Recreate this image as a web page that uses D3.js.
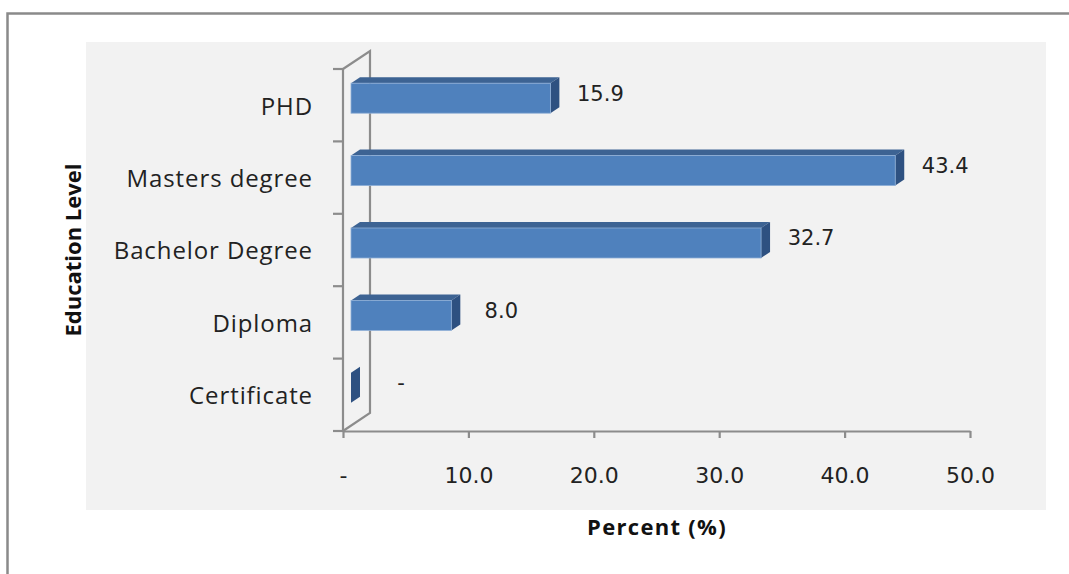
<!DOCTYPE html>
<html>
<head>
<meta charset="utf-8">
<script src="https://cdn.jsdelivr.net/npm/d3@7"></script>
<style>
  html, body { margin: 0; padding: 0; background: #ffffff; }
  svg { display: block; }
</style>
</head>
<body>
<svg id="chart" width="1069" height="574"></svg>
<script>
// Education level of respondents, percent of sample
const categories = ["PHD", "Masters degree", "Bachelor Degree", "Diploma", "Certificate"];
const percents = [15.9, 43.4, 32.7, 8.0, 0];
const xTicks = [0, 10, 20, 30, 40, 50];
const xTickLabels = ["-", "10.0", "20.0", "30.0", "40.0", "50.0"];

const svg = d3.select("#chart");

const fmt = v => (v === 0 ? "-" : d3.format(".1f")(v));
const labelFont = "'Open Sans', Lato, sans-serif";
const numFont = "'DejaVu Sans', Verdana, sans-serif";

// outer frame and plot panel
svg.append("rect")
  .attr("x", 7.5).attr("y", 13.5)
  .attr("width", 1080).attr("height", 600)
  .attr("fill", "#ffffff")
  .attr("stroke", "#8a8a8a").attr("stroke-width", 2.5);

svg.append("rect")
  .attr("x", 86).attr("y", 42)
  .attr("width", 960).attr("height", 468)
  .attr("fill", "#f2f2f2");

// scales
const x = d3.scaleLinear().domain([0, 50]).range([343, 970]);
const y = d3.scaleBand().domain(categories).range([69, 431]).padding(0);

// perspective offsets: wall depth and bar depth
const wall = { dx: 27, dy: -18 };
const barShift = { dx: 8, dy: -7 };
const barDepth = { dx: 9, dy: -6 };
const barH = 30;

const axisColor = "#8c8c8c";
const g = svg.append("g");

// back wall and floor edge of the 3D frame
const x0 = x(0), yTop = y.range()[0], yBot = y.range()[1];
g.append("path")
  .attr("d", `M${x0},${yTop} L${x0 + wall.dx},${yTop + wall.dy} L${x0 + wall.dx},${yBot + wall.dy} L${x0},${yBot}`)
  .attr("fill", "none").attr("stroke", axisColor).attr("stroke-width", 2.2);

// vertical axis with ticks on category boundaries
g.append("line")
  .attr("x1", x0).attr("x2", x0).attr("y1", yTop).attr("y2", yBot)
  .attr("stroke", axisColor).attr("stroke-width", 2.2);

const boundaries = categories.map(c => y(c)).concat([yBot]);
g.selectAll(".ytick").data(boundaries).join("line")
  .attr("class", "ytick")
  .attr("x1", x0 - 10).attr("x2", x0)
  .attr("y1", d => d).attr("y2", d => d)
  .attr("stroke", axisColor).attr("stroke-width", 2.2);

// horizontal axis
const xAxis = d3.axisBottom(x)
  .tickValues(xTicks)
  .tickFormat((d, i) => xTickLabels[i])
  .tickSize(7)
  .tickSizeOuter(0)
  .tickPadding(29);

const ax = svg.append("g")
  .attr("transform", `translate(0,${yBot})`)
  .call(xAxis);
ax.select(".domain").attr("stroke", axisColor).attr("stroke-width", 2.2);
ax.selectAll(".tick line").attr("stroke", axisColor).attr("stroke-width", 2.2);
ax.selectAll(".tick text")
  .attr("fill", "#222")
  .style("font-family", numFont)
  .style("font-size", "22px");

// category labels
svg.append("g").selectAll("text").data(categories).join("text")
  .attr("x", 313)
  .attr("y", d => y(d) + y.bandwidth() / 2 + 1)
  .attr("dy", "0.35em")
  .attr("text-anchor", "end")
  .attr("fill", "#222")
  .style("font-family", labelFont)
  .style("font-size", "24px")
  .style("letter-spacing", "0.9px")
  .text(d => d);

// 3D bars: front, top and side faces
const bars = svg.append("g").selectAll("g.bar")
  .data(categories.map((c, i) => ({ cat: c, v: percents[i] })))
  .join("g").attr("class", "bar");

const bx0 = d => x(0) + barShift.dx;
const bx1 = d => x(d.v) + barShift.dx;
const by0 = d => y(d.cat) + y.bandwidth() / 2 + barShift.dy - barH / 2;

bars.filter(d => d.v > 0).append("path")
  .attr("d", d => {
    const a = bx0(d), b = bx1(d), t = by0(d);
    return `M${a},${t} L${a + barDepth.dx},${t + barDepth.dy} L${b + barDepth.dx},${t + barDepth.dy} L${b},${t} Z`;
  })
  .attr("fill", "#3d6393");

bars.append("path")
  .attr("d", d => {
    const b = bx1(d), t = by0(d);
    return `M${b},${t} L${b + barDepth.dx},${t + barDepth.dy} L${b + barDepth.dx},${t + barDepth.dy + barH} L${b},${t + barH} Z`;
  })
  .attr("fill", "#2e5181");

bars.filter(d => d.v > 0).append("rect")
  .attr("x", d => bx0(d))
  .attr("y", d => by0(d))
  .attr("width", d => bx1(d) - bx0(d))
  .attr("height", barH)
  .attr("fill", "#4f81bd")
  .attr("stroke", "#8fb0d8")
  .attr("stroke-width", 0.8);

// value labels
bars.append("text")
  .attr("x", d => bx1(d) + barDepth.dx + 41)
  .attr("y", d => y(d.cat) + y.bandwidth() / 2 - 12)
  .attr("dy", "0.35em")
  .attr("text-anchor", "middle")
  .attr("fill", "#222")
  .style("font-family", numFont)
  .style("font-size", "21px")
  .text(d => fmt(d.v));

// axis titles
svg.append("text")
  .attr("x", 657).attr("y", 527)
  .attr("dy", "0.35em")
  .attr("text-anchor", "middle")
  .attr("fill", "#111")
  .style("font-family", labelFont)
  .style("font-weight", "bold")
  .style("font-size", "22px")
  .style("letter-spacing", "1.3px")
  .text("Percent (%)");

svg.append("text")
  .attr("transform", "translate(73,250) rotate(-90)")
  .attr("dy", "0.35em")
  .attr("text-anchor", "middle")
  .attr("fill", "#111")
  .style("font-family", labelFont)
  .style("font-weight", "bold")
  .style("font-size", "22px")
  .text("Education Level");
</script>
</body>
</html>
